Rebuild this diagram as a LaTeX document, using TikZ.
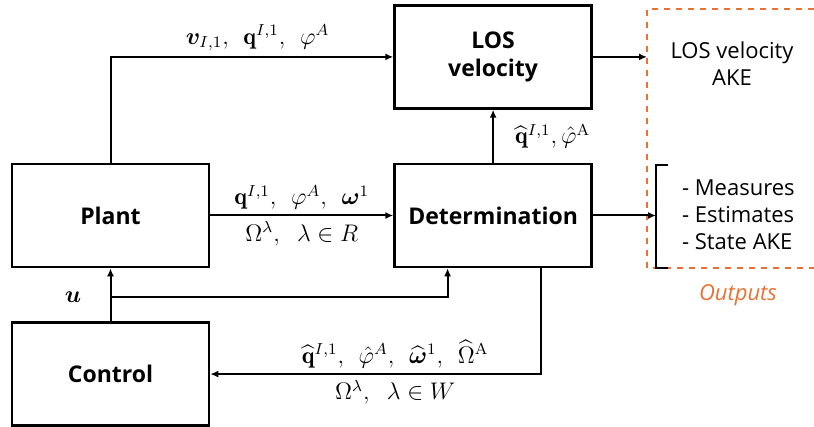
\documentclass[tikz,border=0pt]{standalone}
\usepackage{amsmath,bm}
\usepackage{fontspec}
\setsansfont{Open Sans}
\usetikzlibrary{arrows.meta,positioning}
\definecolor{outorange}{RGB}{233,113,50}

\begin{document}
\begin{tikzpicture}[
    x=0.5pt, y=-0.5pt,
    node distance=26.5pt and 91.5pt,
    box/.style={draw, line width=1.3pt, minimum width=98.5pt, minimum height=51.5pt, align=center, font=\sffamily\bfseries\fontsize{11.5}{14}\selectfont},
    arrow/.style={-{Latex[length=4pt,width=3.5pt]}, line width=1pt},
    lbl/.style={font=\fontsize{12}{13}\selectfont, inner sep=2.5pt},
    outtext/.style={font=\sffamily\fontsize{11}{13.5}\selectfont, align=center}
  ]
  \useasboundingbox (0,0) rectangle (814,427);
  % blocks
  \node[box] (plant) at (110.5,215.5) {Plant};
  \node[box, right=of plant] (determ) {Determination};
  \node[box, above=of determ] (los) {LOS\\velocity};
  \node[box, below=of plant] (control) {Control};
  % outputs
  \coordinate (outleft) at (647,0);
  \coordinate (brk) at (656,0);
  \draw[outorange, dashed, line width=0.8pt] (814,9) -- (647,9) -- (647,268) -- (814,268);
  \draw[line width=1pt] (668,165) -- (656,165) -- (656,268) -- (668,268);
  \node[outtext] (losout) at (732,64) {LOS velocity\\AKE};
  \node[outtext, align=left, anchor=west] (detout) at (675,215) {- Measures\\- Estimates\\- State AKE};
  \node[font=\sffamily\itshape\fontsize{11}{12}\selectfont, text=outorange] (outlbl) at (738,295) {Outputs};
  % signals
  \draw[arrow] (plant.north) |- (los.west)
    node[lbl, above, pos=0.76] {$\boldsymbol{v}_{I,1},\;\, \mathbf{q}^{I,1},\;\, \varphi^{A}$};
  \draw[arrow] (plant) -- (determ)
    node[lbl, midway, above] {$\mathbf{q}^{I,1},\;\, \varphi^{A},\;\, \boldsymbol{\omega}^{1}$}
    node[lbl, midway, below] {$\Omega^{\lambda},\;\; \lambda\in R$};
  \draw[arrow] (determ) -- (los)
    node[lbl, midway, right, xshift=8pt] {$\widehat{\mathbf{q}}^{I,1}, \hat{\varphi}^{\mathrm{A}}$};
  \draw[arrow] (los.east) -- (los.east -| outleft);
  \draw[arrow] (determ.east) -- (determ.east -| brk);
  \draw[arrow] (control) -- (plant);
  \coordinate (usplit) at (110.5,297);
  \node[lbl, left=12pt of usplit, font=\fontsize{13}{13}\selectfont] (ulbl) {$\boldsymbol{u}$};
  \draw[arrow] (usplit) -| ([xshift=-22.75pt]determ.south);
  \draw[arrow] ([xshift=23.75pt]determ.south) |- (control.east)
    node[lbl, above, pos=0.72] {$\widehat{\mathbf{q}}^{I,1},\;\, \hat{\varphi}^{A},\;\, \widehat{\boldsymbol{\omega}}^{1},\;\, \widehat{\Omega}^{\mathrm{A}}$}
    node[lbl, below, pos=0.72] {$\Omega^{\lambda},\;\; \lambda\in W$};
\end{tikzpicture}
\end{document}
